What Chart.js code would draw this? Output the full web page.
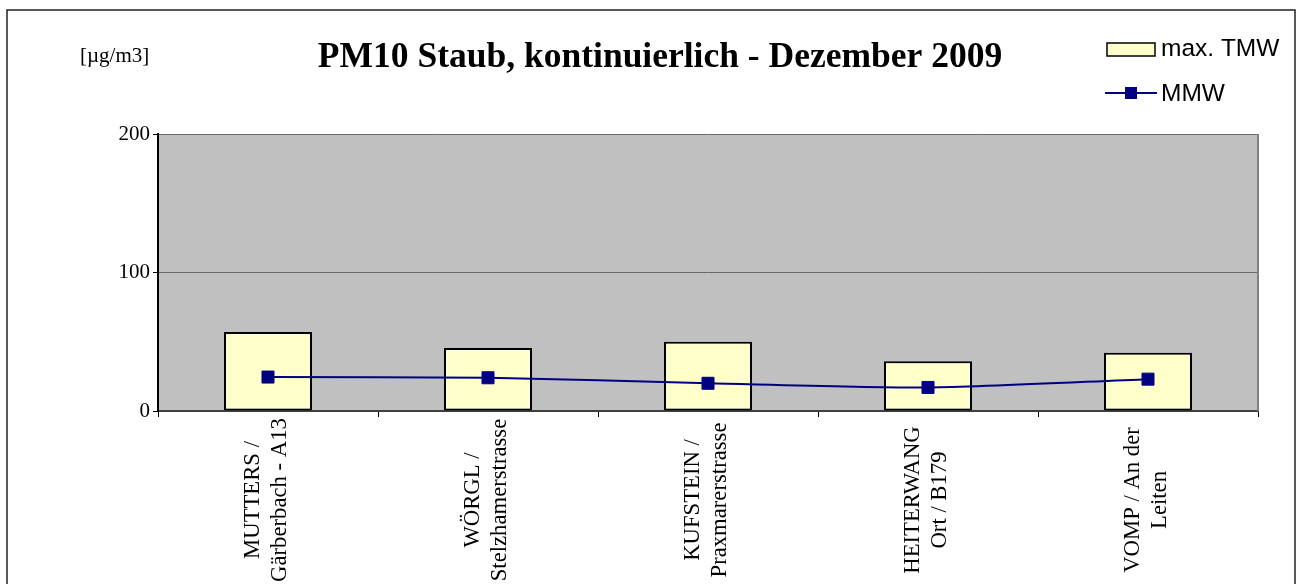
<!DOCTYPE html>
<html lang="de">
<head>
<meta charset="UTF-8">
<title>PM10 Staub, kontinuierlich - Dezember 2009</title>
<script src="https://cdn.jsdelivr.net/npm/chart.js"></script>
<style>
    html, body { margin: 0; padding: 0; background: #fff; overflow: hidden; }
    #wrap { width: 1297px; height: 584px; }
</style>
</head>
<body>
<div id="wrap"><canvas id="grafico" width="1297" height="584"></canvas></div>
<script>
    // Messstellen (zweizeilige Beschriftung)
    const stationen = [
        ["MUTTERS /", "Gärberbach - A13"],
        ["WÖRGL /", "Stelzhamerstrasse"],
        ["KUFSTEIN /", "Praxmarerstrasse"],
        ["HEITERWANG", "Ort / B179"],
        ["VOMP / An der", "Leiten"]
    ];
    const maxTMW = [57, 45.5, 50, 36, 42];
    const mmw = [24.5, 24, 20, 17, 23];
    const yTicks = [0, 100, 200];

    const titel = "PM10 Staub, kontinuierlich - Dezember 2009";
    const einheit = "[µg/m3]";
    const serif = '"Liberation Serif", "Times New Roman", serif';
    const sans = '"Liberation Sans", Arial, sans-serif';

    const farbeBalken = '#FFFFCC';
    const farbeLinie = '#000080';

    // Hintergrund, Rahmen, Titel, Legende und Achsenbeschriftung
    const zeichnen = {
        id: 'zeichnen',
        beforeDraw(chart) {
            const ctx = chart.ctx;
            const a = chart.chartArea;
            ctx.save();
            ctx.fillStyle = '#fff';
            ctx.fillRect(0, 0, chart.width, chart.height);
            ctx.fillStyle = '#C0C0C0';
            ctx.fillRect(a.left, a.top, a.right - a.left, a.bottom - a.top);
            ctx.restore();
        },
        afterDraw(chart) {
            const ctx = chart.ctx;
            const a = chart.chartArea;
            const x = chart.scales.x;
            ctx.save();

            // rechter Rand der Zeichenfläche
            ctx.strokeStyle = '#808080';
            ctx.lineWidth = 2;
            ctx.beginPath();
            ctx.moveTo(a.right, a.top);
            ctx.lineTo(a.right, a.bottom);
            ctx.stroke();

            // äußerer Rahmen
            ctx.strokeStyle = '#222';
            ctx.lineWidth = 1.5;
            ctx.strokeRect(7, 10, 1288, 640);

            // Titel und Einheit
            ctx.fillStyle = '#000';
            ctx.textBaseline = 'alphabetic';
            ctx.textAlign = 'center';
            ctx.font = 'bold 35.5px ' + serif;
            ctx.fillText(titel, 660, 67);
            ctx.textAlign = 'left';
            ctx.font = '21px ' + serif;
            ctx.fillText(einheit, 80, 62);

            // Legende
            const ds = chart.data.datasets;
            ctx.font = '24.5px ' + sans;
            ctx.textBaseline = 'middle';
            ctx.fillStyle = farbeBalken;
            ctx.fillRect(1107, 43, 48, 13);
            ctx.strokeStyle = '#000';
            ctx.lineWidth = 1.5;
            ctx.strokeRect(1107, 43, 48, 13);
            ctx.fillStyle = '#000';
            ctx.fillText(ds[1].label, 1161, 49);

            ctx.strokeStyle = farbeLinie;
            ctx.lineWidth = 2;
            ctx.beginPath();
            ctx.moveTo(1105, 93);
            ctx.lineTo(1157, 93);
            ctx.stroke();
            ctx.fillStyle = farbeLinie;
            ctx.fillRect(1125, 87, 12, 12);
            ctx.fillStyle = '#000';
            ctx.fillText(ds[0].label, 1161, 94);

            // Kategorien, senkrecht und zentriert
            ctx.font = '22.7px ' + serif;
            ctx.textAlign = 'center';
            ctx.textBaseline = 'middle';
            const zeilenAbstand = 27.5;
            stationen.forEach((zeilen, i) => {
                const px = x.getPixelForValue(i) - 1.5;
                ctx.save();
                ctx.translate(px, 500);
                ctx.rotate(-Math.PI / 2);
                zeilen.forEach((z, j) => {
                    ctx.fillText(z, 0, (j - (zeilen.length - 1) / 2) * zeilenAbstand);
                });
                ctx.restore();
            });
            ctx.restore();
        }
    };

    new Chart(document.getElementById('grafico'), {
        data: {
            labels: stationen,
            datasets: [
                {
                    type: 'line',
                    label: 'MMW',
                    data: mmw,
                    order: 0,
                    borderColor: farbeLinie,
                    borderWidth: 2,
                    tension: 0.25,
                    pointStyle: 'rect',
                    pointRadius: 8.5,
                    pointBackgroundColor: farbeLinie,
                    pointBorderColor: farbeLinie,
                    pointBorderWidth: 1
                },
                {
                    type: 'bar',
                    label: 'max. TMW',
                    data: maxTMW,
                    order: 1,
                    backgroundColor: farbeBalken,
                    borderColor: '#000',
                    borderWidth: 2,
                    borderSkipped: false,
                    barPercentage: 0.4,
                    categoryPercentage: 1
                }
            ]
        },
        options: {
            responsive: false,
            devicePixelRatio: 1,
            animation: false,
            layout: { padding: { left: 0, top: 134, right: 39, bottom: 0 } },
            plugins: {
                legend: { display: false },
                title: { display: false },
                tooltip: { enabled: false }
            },
            scales: {
                x: {
                    type: 'category',
                    offset: true,
                    ticks: { display: false },
                    grid: {
                        offset: true,
                        drawOnChartArea: false,
                        drawTicks: true,
                        tickLength: 6,
                        tickColor: '#000',
                        tickWidth: 1
                    },
                    border: { color: '#404040', width: 2 },
                    afterFit(scale) { scale.height = 584 - 411; }
                },
                y: {
                    position: 'left',
                    min: yTicks[0],
                    max: yTicks[yTicks.length - 1],
                    afterBuildTicks(scale) {
                        scale.ticks = yTicks.map(v => ({ value: v }));
                    },
                    ticks: {
                        color: '#000',
                        padding: 3,
                        font: { family: serif, size: 21 }
                    },
                    grid: {
                        color: '#6a6a6a',
                        lineWidth: 1,
                        tickLength: 5,
                        tickColor: '#000'
                    },
                    border: { color: '#000', width: 2 },
                    afterFit(scale) { scale.width = 158; }
                }
            }
        },
        plugins: [zeichnen]
    });
</script>
</body>
</html>
